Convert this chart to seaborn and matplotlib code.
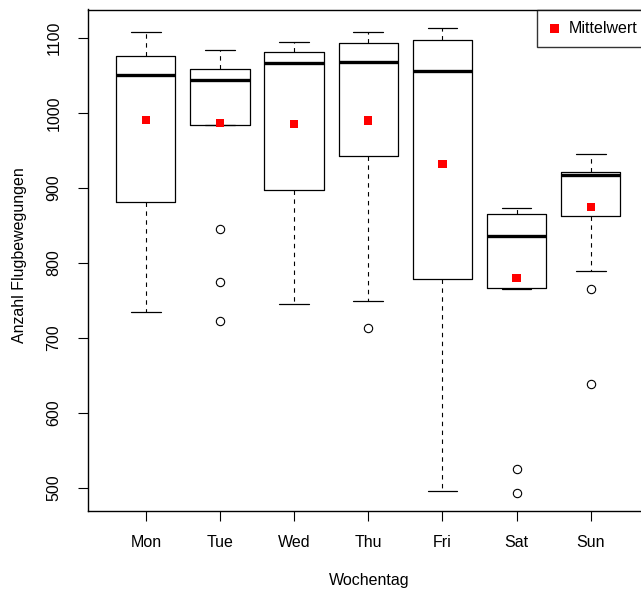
import matplotlib
matplotlib.use("Agg")
import matplotlib.pyplot as plt
import seaborn as sns

# per-day box statistics
days = ['Mon', 'Tue', 'Wed', 'Thu', 'Fri', 'Sat', 'Sun']
whisker_low = [735, 984, 745, 749, 496, 766, 789]
q1 = [881, 984, 897, 943, 779, 767, 863]
median = [1051, 1044, 1067, 1068, 1056, 836, 917]
q3 = [1076, 1059, 1081, 1093, 1097, 865, 921]
whisker_high = [1108, 1084, 1095, 1108, 1113, 873, 945]
outliers = [[], [846, 775, 723], [], [713], [], [526, 494], [766, 639]]
means = [991, 987, 985, 990, 932, 780, 875]
y_ticks = [500, 600, 700, 800, 900, 1000, 1100]

sns.set_theme(style="white")
plt.rcParams['font.family'] = ['Liberation Sans', 'DejaVu Sans']
plt.rcParams.update({
    'font.size': 11.5, 'axes.labelsize': 11.5, 'xtick.labelsize': 11.5,
    'ytick.labelsize': 11.5, 'legend.fontsize': 11.5,
    'text.color': 'black', 'axes.labelcolor': 'black',
    'xtick.color': 'black', 'ytick.color': 'black',
})

fig = plt.figure(figsize=(6.41, 5.90), dpi=100)
ax = fig.add_axes([88 / 641, 79 / 590, 562 / 641, 501.5 / 590])

stats = []
for i in range(len(days)):
    stats.append({
        'med': median[i], 'q1': q1[i], 'q3': q3[i],
        'whislo': whisker_low[i], 'whishi': whisker_high[i],
        'fliers': outliers[i], 'label': days[i]
    })

ax.bxp(stats, positions=range(len(days)), widths=0.8, capwidths=0.4,
       boxprops=dict(color='black', linewidth=0.9),
       medianprops=dict(color='black', linewidth=2.4, solid_capstyle='butt'),
       whiskerprops=dict(color='black', linewidth=0.8, linestyle=(0, (4, 4))),
       capprops=dict(color='black', linewidth=0.9),
       flierprops=dict(marker='o', markerfacecolor='none', markeredgecolor='black',
                       markersize=6, markeredgewidth=0.8))

sns.scatterplot(x=list(range(len(days))), y=means, marker='s', color='red',
                s=36, edgecolor='none', label='Mittelwert', zorder=3, ax=ax)

ax.set_xlim(-0.78, 6.80)
ax.set_ylim(469.5, 1138)
ax.set_xticks(range(len(days)))
ax.set_xticklabels(days)
ax.set_yticks(y_ticks)
ax.set_yticklabels([str(v) for v in y_ticks], rotation=90, va='center')
ax.tick_params(axis='x', length=7.2, width=0.8, pad=10, direction='out', bottom=True)
ax.tick_params(axis='y', length=7.2, width=0.8, pad=12, direction='out', left=True)

for sp in ax.spines.values():
    sp.set_color('black')
    sp.set_linewidth(1.0)

ax.set_xlabel('Wochentag')
ax.set_ylabel('Anzahl Flugbewegungen')
ax.xaxis.label.set_va('center')
ax.yaxis.label.set_va('center')
ax.xaxis.set_label_coords(0.5, -70 / 501.5)
ax.yaxis.set_label_coords(-69 / 562, 0.51)

leg = ax.legend(loc='upper right', bbox_to_anchor=(0.998, 1.0), borderaxespad=0,
                frameon=True, fancybox=False, edgecolor='black',
                handlelength=0.8, handletextpad=0.5, borderpad=0.7, markerscale=1.0)
leg.get_frame().set_linewidth(1.0)

plt.savefig('out.png', dpi=100)
